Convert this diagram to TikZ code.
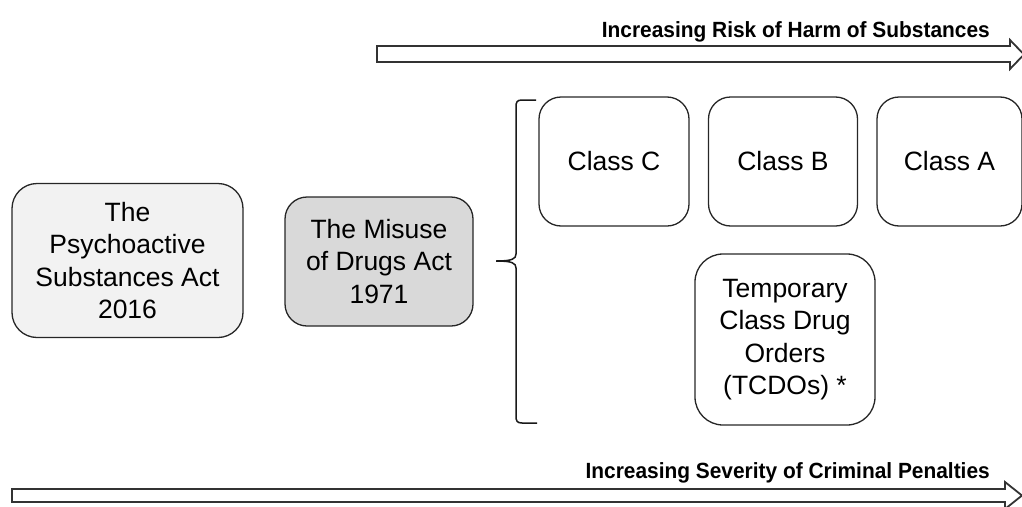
\documentclass[tikz,border=0pt]{standalone}
\usepackage{fontspec}
\setmainfont{Liberation Sans}
\begin{document}
\begin{tikzpicture}[x=1pt,y=-1pt,
  box/.style={draw=black!85, line width=1.3pt, rounded corners=22pt, align=center, inner sep=0pt,
    font=\fontsize{26.5}{32.5}\selectfont},
  heading/.style={font=\bfseries\fontsize{22}{26}\selectfont, inner sep=0pt, anchor=base east},
  bigarrow/.style={draw=black!80, line width=1.8pt, fill=white, line join=miter}
]
\useasboundingbox (0,0) rectangle (1022,506);

% top arrow
\draw[bigarrow] (377,46) -- (1010,46) -- (1010,40) -- (1024,54.5) -- (1010,69) -- (1010,62) -- (377,62) -- cycle;
\node[heading] (risk) at (990,37) {\scalebox{0.95}[1]{Increasing Risk of Harm of Substances}};

% bottom arrow
\draw[bigarrow] (12,489) -- (1005,489) -- (1005,482) -- (1022,495.5) -- (1005,509) -- (1005,502) -- (12,502) -- cycle;
\node[heading] (severity) at (990,478) {\scalebox{0.95}[1]{Increasing Severity of Criminal Penalties}};

% acts
\node[box, fill=black!5, minimum width=231pt, minimum height=154pt, rounded corners=25pt] (psa) at (127.5,260.5)
  {The\\Psychoactive\\Substances Act\\2016};
\node[box, fill=black!15, minimum width=188pt, minimum height=129pt] (mda) at (379,261.5)
  {The Misuse\\of Drugs Act\\1971};

% brace
\draw[black!90, line width=1.5pt] (536,100) -- (522,100) .. controls (517,100) and (516,102) .. (516,107)
  -- (516,254) .. controls (516,259) and (512,261) .. (496,261)
  .. controls (512,261) and (516,263) .. (516,268)
  -- (516,416) .. controls (516,421) and (517,423) .. (522,423) -- (537,423);

% classes
\node[box, minimum width=150pt, minimum height=129pt] (classC) at (614,161.5) {Class C};
\node[box, minimum width=149pt, minimum height=129pt] (classB) at (783,161.5) {Class B};
\node[box, minimum width=145pt, minimum height=129pt] (classA) at (949.5,161.5) {Class A};
\node[box, minimum width=180pt, minimum height=171pt, rounded corners=28pt] (tcdo) at (785,339.5)
  {Temporary\\Class Drug\\Orders\\(TCDOs) *};
\end{tikzpicture}
\end{document}
